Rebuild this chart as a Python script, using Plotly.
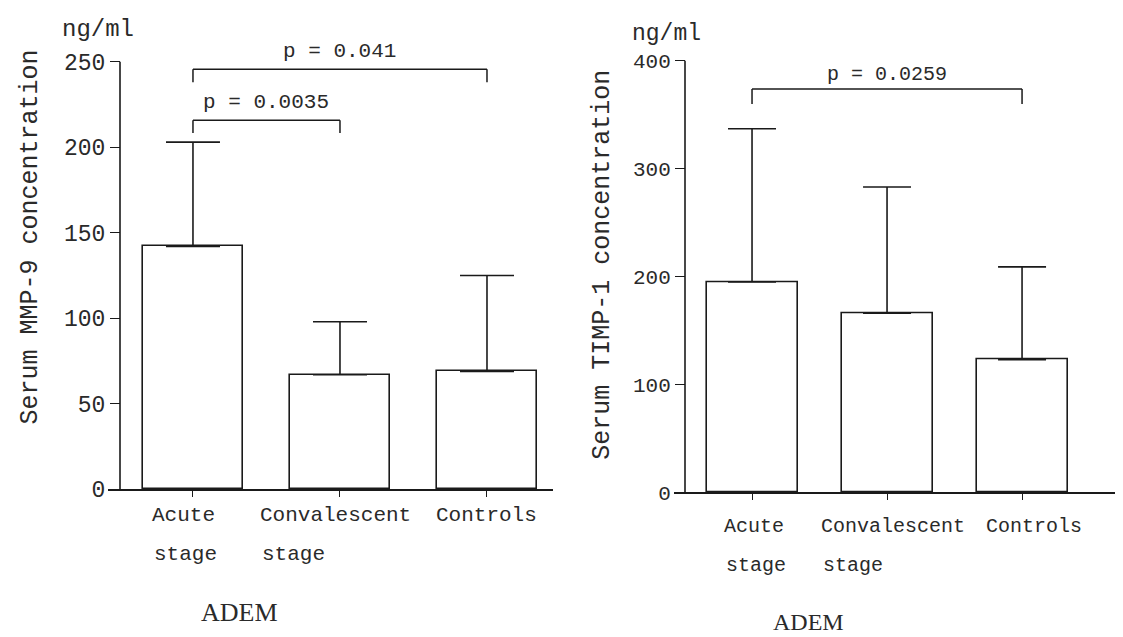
import plotly.graph_objects as go

W, H = 1123, 637

# ---------------- data ----------------
categories = ["Acute stage", "Convalescent stage", "Controls"]
label_line1 = ["Acute", "Convalescent", "Controls"]
label_line2 = ["stage", "stage", ""]

mmp9_mean = [142, 67, 69]
mmp9_sd = [61, 31, 56]

timp1_mean = [195, 166, 123]
timp1_sd = [142, 117, 86]

mmp9_ticks = [0, 50, 100, 150, 200, 250]
timp1_ticks = [0, 100, 200, 300, 400]

# brackets: (from category idx, to category idx, text)
mmp9_brackets = [(0, 2, "p = 0.041"), (0, 1, "p = 0.0035")]
timp1_brackets = [(0, 2, "p = 0.0259")]

MONO = "Liberation Mono, Courier New, monospace"
SERIF = "Liberation Serif, Times New Roman, serif"
INK = "#1a1a1a"
TXT = "#2a2a2a"


def fx(px):
    return px / W


def fy(py):
    return 1 - py / H


xs = list(range(len(categories)))

fig = go.Figure()

fig.add_trace(go.Bar(
    x=xs, y=mmp9_mean, width=0.68,
    marker=dict(color="white", line=dict(color=INK, width=1.6)),
    error_y=dict(type="data", array=mmp9_sd, arrayminus=[0] * 3, symmetric=False,
                 color=INK, thickness=1.6, width=27),
    xaxis="x", yaxis="y", showlegend=False, hoverinfo="skip",
))
fig.add_trace(go.Bar(
    x=xs, y=timp1_mean, width=0.674,
    marker=dict(color="white", line=dict(color=INK, width=1.6)),
    error_y=dict(type="data", array=timp1_sd, arrayminus=[0] * 3, symmetric=False,
                 color=INK, thickness=1.6, width=24),
    xaxis="x2", yaxis="y2", showlegend=False, hoverinfo="skip",
))

ax_common = dict(showgrid=False, zeroline=False, fixedrange=True)

fig.update_layout(
    width=W, height=H, autosize=False,
    margin=dict(l=0, r=0, t=0, b=0),
    paper_bgcolor="white", plot_bgcolor="white",
    xaxis=dict(domain=[fx(100), fx(545)], range=[-0.578, 2.449], anchor="y",
               showline=True, linecolor=INK, linewidth=1.6,
               tickvals=xs, ticks="outside", ticklen=6, tickwidth=1.2, tickcolor=INK,
               showticklabels=False, **ax_common),
    yaxis=dict(domain=[fy(493), fy(28.7)], range=[0, 265], anchor="free", position=fx(112),
               showline=False, tickvals=mmp9_ticks, ticks="outside", ticklen=10,
               tickwidth=1.2, tickcolor=INK,
               tickfont=dict(family=MONO, size=23, color=TXT), **ax_common),
    xaxis2=dict(domain=[fx(666), fx(1118)], range=[-0.578, 2.77], anchor="y2",
                showline=True, linecolor=INK, linewidth=1.6,
                tickvals=xs, ticks="outside", ticklen=6, tickwidth=1.2, tickcolor=INK,
                showticklabels=False, **ax_common),
    yaxis2=dict(domain=[fy(496), fy(32)], range=[0, 420], anchor="free", position=fx(677),
                showline=False, tickvals=timp1_ticks, ticks="outside", ticklen=10,
                tickwidth=1.2, tickcolor=INK,
                tickfont=dict(family=MONO, size=21, color=TXT), **ax_common),
    bargap=0,
)

shapes = []
# y axis lines (only up to top tick)
shapes.append(dict(type="line", xref="paper", yref="y", x0=fx(112), x1=fx(112),
                   y0=0, y1=mmp9_ticks[-1], line=dict(color=INK, width=1.6)))
shapes.append(dict(type="line", xref="paper", yref="y2", x0=fx(677), x1=fx(677),
                   y0=0, y1=timp1_ticks[-1], line=dict(color=INK, width=1.6)))

annotations = []


def add_bracket(xr, yr, a, b, text, ytop, ylow, ytext, fsize):
    ln = dict(color=INK, width=1.5)
    shapes.append(dict(type="line", xref=xr, yref=yr, x0=a, x1=a, y0=ylow, y1=ytop, line=ln))
    shapes.append(dict(type="line", xref=xr, yref=yr, x0=a, x1=b, y0=ytop, y1=ytop, line=ln))
    shapes.append(dict(type="line", xref=xr, yref=yr, x0=b, x1=b, y0=ylow, y1=ytop, line=ln))
    annotations.append(dict(xref=xr, yref=yr, x=(a + b) / 2, y=ytext, text=text,
                            showarrow=False, xanchor="center", yanchor="middle",
                            font=dict(family=MONO, size=fsize, color=TXT)))


# bracket heights (in axis units)
add_bracket("x", "y", *mmp9_brackets[0], ytop=245.6, ylow=238, ytext=256, fsize=21)
add_bracket("x", "y", *mmp9_brackets[1], ytop=215.8, ylow=208.3, ytext=226, fsize=21)
add_bracket("x2", "y2", *timp1_brackets[0], ytop=373.8, ylow=360, ytext=387, fsize=20)


def add_cat_labels(xr, y1px, y2px, fsize, extra_shift):
    cw = 0.6 * fsize
    for i, (l1, l2) in enumerate(zip(label_line1, label_line2)):
        annotations.append(dict(xref=xr, yref="paper", x=xs[i], y=fy(y1px), text=l1,
                                showarrow=False, xanchor="center", yanchor="middle",
                                xshift=extra_shift[i],
                                font=dict(family=MONO, size=fsize, color=TXT)))
        if l2:
            annotations.append(dict(xref=xr, yref="paper", x=xs[i], y=fy(y2px), text=l2,
                                    showarrow=False, xanchor="left", yanchor="middle",
                                    xshift=-len(l1) * cw / 2 + extra_shift[i],
                                    font=dict(family=MONO, size=fsize, color=TXT)))


add_cat_labels("x", 520, 560, 21, [-9, -4, 0])
add_cat_labels("x2", 531, 571, 20, [2, 6, 12])

# units
annotations.append(dict(xref="paper", yref="paper", x=fx(90), y=fy(22), text="ng/ml",
                        showarrow=False, xanchor="center", yanchor="middle",
                        font=dict(family=MONO, size=24, color=TXT)))
annotations.append(dict(xref="paper", yref="paper", x=fx(658), y=fy(27), text="ng/ml",
                        showarrow=False, xanchor="center", yanchor="middle",
                        font=dict(family=MONO, size=23, color=TXT)))
# y titles
annotations.append(dict(xref="paper", yref="paper", x=fx(22), y=fy(235),
                        text="Serum MMP-9 concentration", textangle=-90,
                        showarrow=False, xanchor="center", yanchor="middle",
                        font=dict(family=MONO, size=25, color=TXT)))
annotations.append(dict(xref="paper", yref="paper", x=fx(595), y=fy(263),
                        text="Serum TIMP-1 concentration", textangle=-90,
                        showarrow=False, xanchor="center", yanchor="middle",
                        font=dict(family=MONO, size=25, color=TXT)))
# ADEM
annotations.append(dict(xref="paper", yref="paper", x=fx(231), y=fy(619), text="ADEM",
                        showarrow=False, xanchor="center", yanchor="middle",
                        font=dict(family=SERIF, size=26, color=TXT)))
annotations.append(dict(xref="paper", yref="paper", x=fx(800), y=fy(629), text="ADEM",
                        showarrow=False, xanchor="center", yanchor="middle",
                        font=dict(family=SERIF, size=24, color=TXT)))

fig.update_layout(shapes=shapes, annotations=annotations)

fig.write_html("out.html")
